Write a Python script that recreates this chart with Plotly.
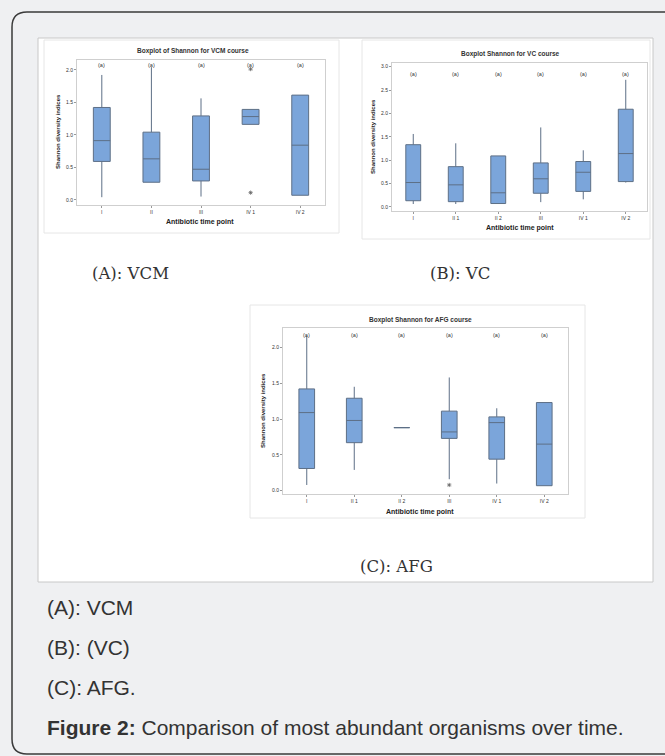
import plotly.graph_objects as go

W, H = 665, 756

# ---------------- data ----------------
vcm_cats = ["I", "II", "III", "IV 1", "IV 2"]
vcm_low = [0.04, 0.27, 0.05, 1.16, 0.07]
vcm_q1 = [0.59, 0.27, 0.29, 1.16, 0.07]
vcm_med = [0.91, 0.63, 0.47, 1.28, 0.84]
vcm_q3 = [1.42, 1.04, 1.29, 1.39, 1.61]
vcm_high = [1.92, 2.04, 1.56, 1.39, 1.61]
vcm_out_x = ["IV 1", "IV 1"]
vcm_out_y = [0.11, 2.01]
vcm_groups = ["(a)", "(a)", "(a)", "(a)", "(a)"]

vc_cats = ["I", "II 1", "II 2", "III", "IV 1", "IV 2"]
vc_low = [0.06, 0.06, 0.07, 0.10, 0.16, 0.52]
vc_q1 = [0.13, 0.11, 0.07, 0.29, 0.33, 0.54]
vc_med = [0.52, 0.47, 0.30, 0.60, 0.74, 1.14]
vc_q3 = [1.33, 0.86, 1.09, 0.94, 0.97, 2.09]
vc_high = [1.56, 1.36, 1.09, 1.70, 1.21, 2.72]
vc_groups = ["(a)", "(a)", "(a)", "(a)", "(a)", "(a)"]

afg_cats = ["I", "II 1", "II 2", "III", "IV 1", "IV 2"]
afg_low = [0.08, 0.29, 0.88, 0.16, 0.10, 0.07]
afg_q1 = [0.31, 0.67, 0.88, 0.73, 0.44, 0.07]
afg_med = [1.09, 0.98, 0.88, 0.82, 0.95, 0.65]
afg_q3 = [1.42, 1.29, 0.88, 1.11, 1.03, 1.23]
afg_high = [2.16, 1.45, 0.88, 1.58, 1.15, 1.23]
afg_out_x = ["III"]
afg_out_y = [0.08]
afg_groups = ["(a)", "(a)", "(a)", "(a)", "(a)", "(a)"]

panel_labels = ["(A): VCM", "(B): VC", "(C): AFG"]
captions = ["(A): VCM", "(B): (VC)", "(C): AFG."]
fig_caption_bold = "Figure 2:"
fig_caption_text = " Comparison of most abundant organisms over time."

# ---------------- helpers ----------------
def px(x):
    return x / W

def py(y):
    return 1 - y / H

BOX_FILL = "#7ba5da"
BOX_LINE = "#5d6f86"
FONT = "Liberation Sans, Arial, sans-serif"

fig = go.Figure()

panels = [
    dict(key="", cats=vcm_cats, low=vcm_low, q1=vcm_q1, med=vcm_med, q3=vcm_q3, high=vcm_high,
         outx=vcm_out_x, outy=vcm_out_y, groups=vcm_groups, glev=2.08,
         dom=(77, 325, 60, 205), yr=(-0.08, 2.15), dt=0.5, bw=0.34,
         title="Boxplot of Shannon for VCM course", tpos=(193, 51),
         xt_pos=(200, 222), yt_pos=(58, 132)),
    dict(key="2", cats=vc_cats, low=vc_low, q1=vc_q1, med=vc_med, q3=vc_q3, high=vc_high,
         outx=[], outy=[], groups=vc_groups, glev=2.84,
         dom=(392, 647, 63, 211), yr=(-0.09, 3.08), dt=0.5, bw=0.35,
         title="Boxplot Shannon for VC course", tpos=(510, 54),
         xt_pos=(520, 228), yt_pos=(373, 137)),
    dict(key="3", cats=afg_cats, low=afg_low, q1=afg_q1, med=afg_med, q3=afg_q3, high=afg_high,
         outx=afg_out_x, outy=afg_out_y, groups=afg_groups, glev=2.17,
         dom=(283, 568, 328, 494), yr=(-0.046, 2.27), dt=0.5, bw=0.33,
         title="Boxplot Shannon for AFG course", tpos=(420, 320),
         xt_pos=(420, 512), yt_pos=(263, 411)),
]

layout_axes = {}
annotations = []

def ann(x, y, text, size, color="#333", family=FONT, xanchor="center", angle=0):
    annotations.append(dict(x=px(x), y=py(y), xref="paper", yref="paper", text=text,
                            xanchor=xanchor, yanchor="middle", showarrow=False,
                            textangle=angle,
                            font=dict(size=size, color=color, family=family)))

for p in panels:
    k = p["key"]
    xa, ya = "x" + k, "y" + k
    fig.add_trace(go.Box(
        x=p["cats"], q1=p["q1"], median=p["med"], q3=p["q3"],
        lowerfence=p["low"], upperfence=p["high"],
        fillcolor=BOX_FILL, line=dict(color=BOX_LINE, width=1),
        whiskerwidth=0, width=p["bw"], boxpoints=False,
        xaxis=xa, yaxis=ya, showlegend=False, hoverinfo="skip"))
    if p["outx"]:
        fig.add_trace(go.Scatter(
            x=p["outx"], y=p["outy"], mode="markers",
            marker=dict(symbol="asterisk-open", size=3.5, color="#666",
                        line=dict(color="#666", width=0.8)),
            xaxis=xa, yaxis=ya, showlegend=False, hoverinfo="skip"))
    x0, x1, y0, y1 = p["dom"]
    n = len(p["cats"])
    layout_axes["xaxis" + k] = dict(
        domain=[px(x0), px(x1)], anchor=ya, type="category",
        categoryorder="array", categoryarray=p["cats"],
        range=[-0.5, n - 0.5], showgrid=False, zeroline=False,
        showline=True, mirror=True, linecolor="#cfcfcf", linewidth=1,
        ticks="outside", ticklen=2, tickcolor="#999",
        tickfont=dict(size=5, color="#333", family=FONT))
    layout_axes["yaxis" + k] = dict(
        domain=[py(y1), py(y0)], anchor=xa, range=list(p["yr"]),
        dtick=p["dt"], tick0=0, tickformat=".1f",
        showgrid=False, zeroline=False,
        showline=True, mirror=True, linecolor="#cfcfcf", linewidth=1,
        ticks="outside", ticklen=2, tickcolor="#999",
        tickfont=dict(size=5, color="#333", family=FONT))
    for c, g in zip(p["cats"], p["groups"]):
        annotations.append(dict(x=c, y=p["glev"], xref=xa, yref=ya, text=g,
                                xanchor="center", yanchor="middle",
                                showarrow=False, font=dict(size=5.5, color="#333", family=FONT)))
    ann(p["tpos"][0], p["tpos"][1], "<b>" + p["title"] + "</b>", 6.5)
    ann(p["xt_pos"][0], p["xt_pos"][1], "<b>Antibiotic time point</b>", 7, color="#222")
    ann(p["yt_pos"][0], p["yt_pos"][1], "<b>Shannon diversity indices</b>", 6, color="#222", angle=-90)

# panel labels (serif)
SERIF = "DejaVu Serif, Liberation Serif, serif"
for txt, (x, y) in zip(panel_labels, [(130, 273), (460, 273), (396, 566)]):
    ann(x, y, txt, 16.5, family=SERIF)

# captions
for txt, y in zip(captions, [607, 647, 687]):
    ann(45, y, txt, 21, xanchor="left")
ann(45, 727, "<b>" + fig_caption_bold + "</b>" + fig_caption_text, 21, xanchor="left")

# background shapes
r = 15
def P(x, y):
    return f"{px(x):.5f},{py(y):.5f}"
path = (f"M {P(680, 12)} L {P(12 + r, 12)} Q {P(12, 12)} {P(12, 12 + r)} "
        f"L {P(12, 754 - r)} Q {P(12, 754)} {P(12 + r, 754)} L {P(680, 754)}")
shapes = [
    dict(type="path", path=path, xref="paper", yref="paper",
         line=dict(color="#3a3a3a", width=1.5), layer="below"),
    dict(type="rect", x0=px(38), x1=px(653), y0=py(582), y1=py(38), xref="paper", yref="paper",
         fillcolor="white", line=dict(color="#c8c8c8", width=1), layer="below"),
    dict(type="rect", x0=px(44), x1=px(339), y0=py(233), y1=py(40), xref="paper", yref="paper",
         fillcolor="white", line=dict(color="#e6e6e6", width=1), layer="below"),
    dict(type="rect", x0=px(362), x1=px(650), y0=py(239), y1=py(40), xref="paper", yref="paper",
         fillcolor="white", line=dict(color="#e6e6e6", width=1), layer="below"),
    dict(type="rect", x0=px(250), x1=px(585), y0=py(518), y1=py(305), xref="paper", yref="paper",
         fillcolor="white", line=dict(color="#e6e6e6", width=1), layer="below"),
]

fig.update_layout(
    width=W, height=H, margin=dict(l=0, r=0, t=0, b=0),
    paper_bgcolor="#eff0f2", plot_bgcolor="white",
    annotations=annotations, shapes=shapes, showlegend=False,
    **layout_axes)

fig.write_html("out.html", config={"displayModeBar": False},
               post_script="document.body.style.margin='0px';document.body.style.overflow='hidden';")
